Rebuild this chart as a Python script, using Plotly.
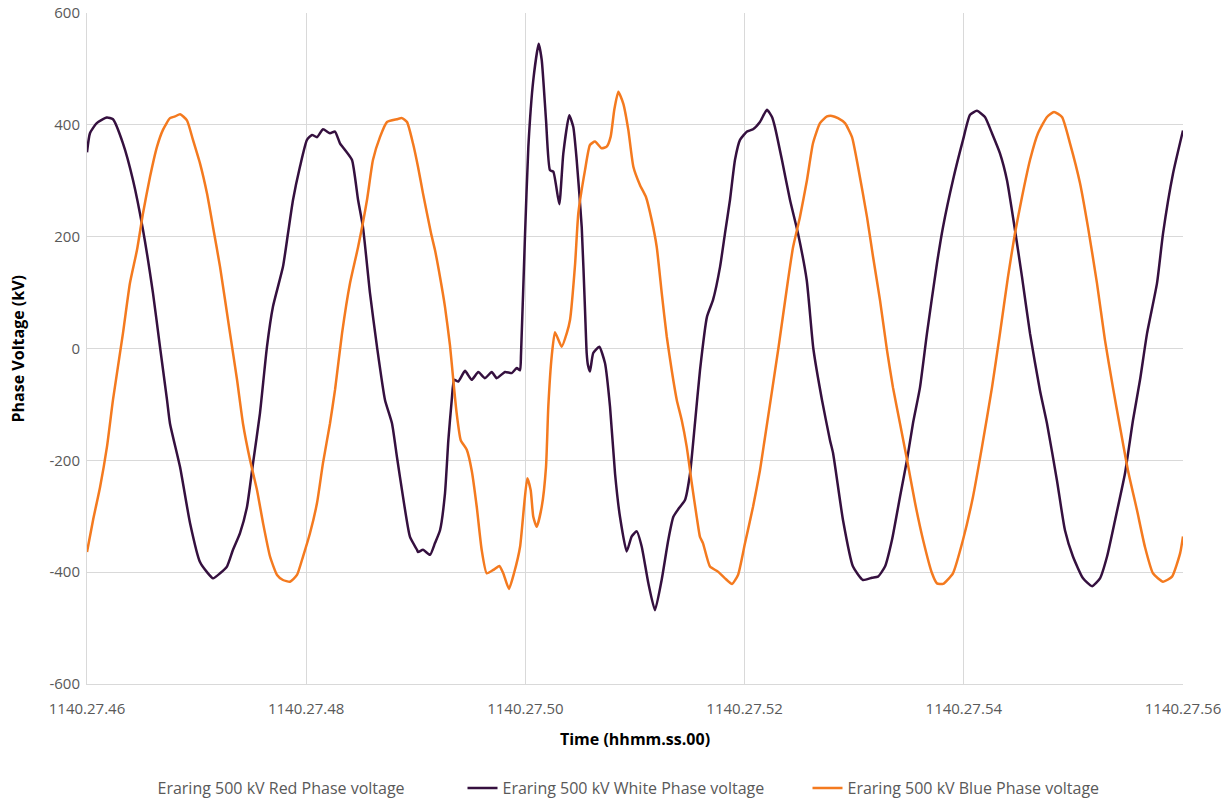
import plotly.graph_objects as go

# time offsets in ms from 1140.27.46
tick_vals = [0, 20, 40, 60, 80, 100]
tick_text = ["1140.27.46", "1140.27.48", "1140.27.50", "1140.27.52", "1140.27.54", "1140.27.56"]
y_ticks = [-600, -400, -200, 0, 200, 400, 600]

white_t = [0.0, 0.27, 0.89, 1.80, 2.37, 3.28, 4.20, 5.11, 6.02, 6.66,
           7.30, 7.57, 8.49, 9.40, 10.31, 10.95, 11.50, 12.14, 12.77, 13.32,
           13.96, 14.60, 15.15, 15.78, 16.42, 16.97, 17.88, 18.34, 18.80, 19.43,
           20.07, 20.53, 20.99, 21.53, 22.17, 22.63, 23.08, 23.54, 24.18, 24.73,
           25.18, 25.82, 26.46, 27.19, 27.83, 28.28, 28.83, 29.47, 30.11, 30.20,
           30.66, 31.30, 31.75, 32.21, 32.66, 32.97, 33.28, 33.49, 33.88, 34.49,
           35.10, 35.70, 36.31, 36.93, 37.38, 38.14, 38.75, 39.21, 39.51, 39.60,
           39.96, 40.27, 40.72, 41.21, 41.49, 41.88, 42.24, 42.55, 43.09, 43.46,
           44.00, 44.37, 44.68, 45.14, 45.44, 45.59, 45.71, 45.89, 46.19, 46.74,
           47.26, 47.72, 48.18, 48.63, 49.24, 49.70, 50.16, 50.61, 51.21, 51.82,
           52.44, 53.04, 53.50, 54.11, 54.56, 55.02, 55.47, 55.93, 56.57, 57.12,
           57.76, 58.21, 58.67, 59.12, 59.58, 60.22, 60.77, 61.40, 62.04, 62.50,
           62.77, 63.41, 64.14, 64.87, 65.67, 66.27, 67.06, 67.79, 68.07, 68.98,
           69.89, 70.80, 71.62, 72.17, 72.81, 73.45, 74.18, 74.82, 75.36, 76.00,
           76.64, 77.55, 78.10, 79.01, 79.93, 80.57, 81.20, 81.93, 82.57, 83.30,
           83.94, 84.67, 85.31, 86.04, 86.95, 87.59, 88.50, 89.23, 89.96, 90.88,
           91.70, 92.43, 93.07, 93.80, 94.71, 95.44, 96.08, 96.72, 97.63, 98.18,
           99.09, 100.0]
white_v = [351, 385, 403, 413, 410, 367, 301, 212, 99, 3,
           -92, -134, -212, -312, -382, -400, -411, -402, -390, -360,
           -330, -283, -205, -116, 3, 75, 146, 206, 266, 325,
           373, 382, 378, 392, 385, 388, 367, 355, 337, 266,
           217, 99, 3, -92, -134, -194, -265, -337, -360, -364,
           -360, -369, -348, -325, -260, -164, -92, -56, -59, -40,
           -56, -42, -53, -42, -53, -42, -44, -35, -39, -10,
           200, 361, 480, 545, 516, 409, 319, 316, 258, 349,
           417, 396, 337, 217, 69, -8, -30, -41, -8, 3,
           -26, -104, -224, -301, -363, -336, -327, -354, -419, -468,
           -413, -342, -301, -283, -271, -224, -134, -39, 57, 87,
           146, 206, 266, 337, 373, 388, 392, 405, 427, 414,
           396, 337, 266, 206, 122, 0, -92, -164, -187, -307,
           -390, -414, -410, -408, -390, -342, -265, -199, -134, -70,
           27, 152, 217, 301, 373, 418, 425, 414, 385, 349,
           301, 212, 128, 27, -75, -134, -236, -325, -372, -411,
           -425, -411, -372, -307, -223, -128, -56, 27, 117, 206,
           313, 390]

blue_t = [0.0, 0.55, 1.19, 1.82, 2.37, 3.28, 3.92, 4.56, 5.11, 5.75,
          6.39, 6.93, 7.57, 8.03, 8.49, 9.12, 9.67, 10.31, 10.95, 11.50,
          12.14, 13.05, 13.69, 14.23, 14.87, 15.51, 16.06, 16.70, 17.34, 17.88,
          18.52, 19.16, 19.71, 20.35, 20.99, 21.53, 22.17, 22.63, 23.27, 24.00,
          24.73, 25.55, 26.09, 26.73, 27.37, 28.28, 28.74, 29.20, 29.74, 30.20,
          30.66, 31.39, 31.75, 32.21, 32.66, 33.12, 33.42, 33.73, 34.10, 34.65,
          35.10, 35.56, 36.01, 36.47, 37.07, 37.62, 37.98, 38.50, 38.96, 39.51,
          39.87, 40.17, 40.48, 40.72, 41.03, 41.49, 41.88, 42.09, 42.40, 42.70,
          43.31, 43.77, 44.07, 44.53, 44.83, 45.44, 45.89, 46.35, 46.96, 47.42,
          47.78, 48.11, 48.48, 48.93, 49.39, 49.85, 50.46, 51.00, 51.52, 51.98,
          52.44, 52.90, 53.35, 53.81, 54.26, 54.72, 55.18, 55.63, 55.93, 56.20,
          56.84, 57.57, 58.21, 58.85, 59.40, 60.04, 60.77, 61.40, 61.82, 63.08,
          63.96, 64.42, 65.05, 65.69, 66.24, 66.88, 67.52, 67.97, 68.52, 69.16,
          69.80, 70.35, 71.17, 71.72, 72.35, 72.99, 73.54, 74.18, 74.82, 75.55,
          76.28, 77.10, 77.55, 78.10, 79.01, 79.93, 80.84, 81.66, 82.57, 83.30,
          84.03, 84.67, 85.31, 86.04, 86.77, 87.59, 88.23, 88.96, 89.69, 90.60,
          91.33, 92.15, 92.88, 93.61, 94.25, 94.98, 95.80, 96.53, 97.26, 98.18,
          99.00, 99.74, 100.0]
blue_v = [-364, -307, -248, -176, -92, 27, 117, 176, 242, 307,
          361, 391, 412, 415, 419, 408, 373, 331, 277, 217,
          146, 27, -56, -134, -199, -253, -312, -372, -405, -414,
          -417, -405, -372, -330, -276, -205, -134, -74, 27, 117,
          181, 266, 337, 378, 405, 410, 412, 405, 367, 325,
          277, 206, 176, 128, 75, 5, -56, -116, -164, -181,
          -218, -283, -360, -402, -396, -389, -402, -430, -402, -355,
          -283, -232, -253, -301, -319, -283, -212, -104, -14, 29,
          3, 27, 51, 150, 242, 319, 364, 370, 358, 361,
          379, 427, 459, 438, 391, 325, 292, 271, 230, 182,
          99, 21, -39, -92, -128, -176, -241, -301, -337, -348,
          -390, -399, -411, -421, -405, -348, -283, -218, -164, 0,
          122, 181, 235, 301, 367, 403, 415, 416, 412, 403,
          378, 325, 235, 164, 87, -3, -70, -134, -199, -276,
          -342, -402, -420, -421, -402, -342, -265, -176, -70, 27,
          128, 206, 271, 337, 385, 414, 423, 414, 367, 296,
          217, 117, 15, -70, -140, -218, -289, -355, -402, -417,
          -408, -366, -336]

names = ["Eraring 500 kV Red Phase voltage",
         "Eraring 500 kV White Phase voltage",
         "Eraring 500 kV Blue Phase voltage"]
colors = ["rgba(0,0,0,0)", "#35103f", "#f47a1f"]

fig = go.Figure()
fig.add_trace(go.Scatter(x=[None], y=[None], mode="lines", name=names[0],
                         line=dict(color=colors[0], width=2.5)))
fig.add_trace(go.Scatter(x=white_t, y=white_v, mode="lines", name=names[1],
                         line=dict(color=colors[1], width=2.5, shape="spline", smoothing=0.5)))
fig.add_trace(go.Scatter(x=blue_t, y=blue_v, mode="lines", name=names[2],
                         line=dict(color=colors[2], width=2.5, shape="spline", smoothing=0.5)))

grid = "#d9d9d9"
fig.update_layout(
    width=1213, height=792,
    margin=dict(l=79, r=38, t=5, b=116, autoexpand=False),
    paper_bgcolor="white", plot_bgcolor="white",
    font=dict(family="Open Sans, Noto Sans, sans-serif", color="#595959", size=15),
    showlegend=True,
    legend=dict(orientation="h", x=0.5, xanchor="center", y=-0.155, yanchor="middle",
                font=dict(size=16, color="#595959"), itemwidth=30,
                entrywidth=300, entrywidthmode="pixels"),
    annotations=[dict(text="<b>Phase Voltage (kV)</b>", xref="paper", yref="paper",
                      x=-0.063, y=0.5, xanchor="center", yanchor="middle", textangle=-90,
                      showarrow=False, font=dict(size=16, color="#000000"))],
)
fig.update_xaxes(range=[0, 100], tickvals=tick_vals, ticktext=tick_text, automargin=False,
                 showgrid=True, gridcolor=grid, gridwidth=1,
                 showline=True, linecolor=grid, linewidth=1, mirror=False,
                 zeroline=False, ticks="outside", ticklen=11, tickcolor="rgba(0,0,0,0)",
                 ticklabeloverflow="allow",
                 tickfont=dict(size=15, color="#595959"),
                 title=dict(text="<b>Time (hhmm.ss.00)</b>", font=dict(size=16, color="#000000"), standoff=16))
fig.update_yaxes(range=[-600, 600], tickvals=y_ticks, ticktext=[str(v) for v in y_ticks], automargin=False,
                 showgrid=True, gridcolor=grid, gridwidth=1,
                 showline=True, linecolor=grid, linewidth=1,
                 zeroline=False, ticks="outside", ticklen=3, tickcolor="rgba(0,0,0,0)",
                 ticklabeloverflow="allow",
                 tickfont=dict(size=15, color="#595959"))

fig.write_html("out.html")
